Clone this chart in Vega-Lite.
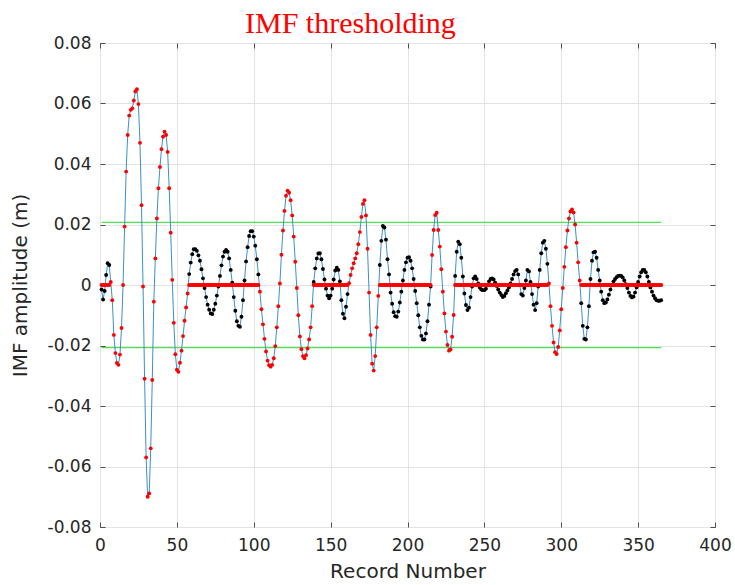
{
  "$schema": "https://vega.github.io/schema/vega-lite/v6.json",
  "width": 615,
  "height": 484,
  "autosize": {"type": "none"},
  "padding": {"left": 100, "top": 43, "right": 20, "bottom": 58},
  "background": "white",
  "config": {
    "view": {"stroke": "#4d4d4d", "strokeWidth": 1},
    "font": "DejaVu Sans"
  },
  "title": {
    "text": "IMF thresholding",
    "font": "Liberation Serif",
    "fontSize": 30,
    "fontWeight": "normal",
    "color": "#ff0000",
    "anchor": "start",
    "frame": "group",
    "dx": 145,
    "dy": 11,
    "offset": 6
  },
  "datasets": {
    "imf": [
      {"x":1,"v":-0.0015,"k":0},{"x":2,"v":-0.0048,"k":0},{"x":3,"v":-0.0020,"k":0},{"x":4,"v":0.0033,"k":0},{"x":5,"v":0.0072,"k":0},{"x":6,"v":0.0066,"k":0},
      {"x":7,"v":0.0010,"k":1},{"x":8,"v":-0.0050,"k":1},{"x":9,"v":-0.0165,"k":1},{"x":10,"v":-0.0225,"k":1},{"x":11,"v":-0.0258,"k":1},{"x":12,"v":-0.0264,"k":1},{"x":13,"v":-0.0230,"k":1},{"x":14,"v":-0.0142,"k":1},{"x":15,"v":0.0000,"k":1},{"x":16,"v":0.0193,"k":1},{"x":17,"v":0.0375,"k":1},{"x":18,"v":0.0496,"k":1},{"x":19,"v":0.0560,"k":1},{"x":20,"v":0.0579,"k":1},{"x":21,"v":0.0584,"k":1},{"x":22,"v":0.0610,"k":1},{"x":23,"v":0.0640,"k":1},{"x":24,"v":0.0647,"k":1},{"x":25,"v":0.0598,"k":1},{"x":26,"v":0.0470,"k":1},{"x":27,"v":0.0264,"k":1},{"x":28,"v":-0.0005,"k":1},{"x":29,"v":-0.0310,"k":1},{"x":30,"v":-0.0570,"k":1},{"x":31,"v":-0.0700,"k":1},{"x":32,"v":-0.0689,"k":1},{"x":33,"v":-0.0540,"k":1},{"x":34,"v":-0.0314,"k":1},{"x":35,"v":-0.0055,"k":1},{"x":36,"v":0.0088,"k":1},{"x":37,"v":0.0220,"k":1},{"x":38,"v":0.0320,"k":1},{"x":39,"v":0.0390,"k":1},{"x":40,"v":0.0449,"k":1},{"x":41,"v":0.0490,"k":1},{"x":42,"v":0.0507,"k":1},{"x":43,"v":0.0496,"k":1},{"x":44,"v":0.0440,"k":1},{"x":45,"v":0.0320,"k":1},{"x":46,"v":0.0173,"k":1},{"x":47,"v":0.0017,"k":1},{"x":48,"v":-0.0125,"k":1},{"x":49,"v":-0.0229,"k":1},{"x":50,"v":-0.0280,"k":1},{"x":51,"v":-0.0287,"k":1},{"x":52,"v":-0.0257,"k":1},{"x":53,"v":-0.0217,"k":1},{"x":54,"v":-0.0169,"k":1},{"x":55,"v":-0.0118,"k":1},{"x":56,"v":-0.0074,"k":1},{"x":57,"v":-0.0028,"k":1},
      {"x":58,"v":0.0036,"k":0},{"x":59,"v":0.0074,"k":0},{"x":60,"v":0.0102,"k":0},{"x":61,"v":0.0118,"k":0},{"x":62,"v":0.0118,"k":0},{"x":63,"v":0.0113,"k":0},{"x":64,"v":0.0098,"k":0},{"x":65,"v":0.0080,"k":0},{"x":66,"v":0.0052,"k":0},{"x":67,"v":0.0022,"k":0},{"x":68,"v":-0.0010,"k":0},{"x":69,"v":-0.0040,"k":0},{"x":70,"v":-0.0065,"k":0},{"x":71,"v":-0.0082,"k":0},{"x":72,"v":-0.0094,"k":0},{"x":73,"v":-0.0096,"k":0},{"x":74,"v":-0.0082,"k":0},{"x":75,"v":-0.0062,"k":0},{"x":76,"v":-0.0035,"k":0},{"x":77,"v":-0.0005,"k":0},{"x":78,"v":0.0030,"k":0},{"x":79,"v":0.0065,"k":0},{"x":80,"v":0.0094,"k":0},{"x":81,"v":0.0110,"k":0},{"x":82,"v":0.0116,"k":0},{"x":83,"v":0.0110,"k":0},{"x":84,"v":0.0088,"k":0},{"x":85,"v":0.0050,"k":0},{"x":86,"v":0.0008,"k":0},{"x":87,"v":-0.0040,"k":0},{"x":88,"v":-0.0085,"k":0},{"x":89,"v":-0.0120,"k":0},{"x":90,"v":-0.0135,"k":0},{"x":91,"v":-0.0138,"k":0},{"x":92,"v":-0.0105,"k":0},{"x":93,"v":-0.0050,"k":0},{"x":94,"v":0.0015,"k":0},{"x":95,"v":0.0078,"k":0},{"x":96,"v":0.0125,"k":0},{"x":97,"v":0.0162,"k":0},{"x":98,"v":0.0178,"k":0},{"x":99,"v":0.0178,"k":0},{"x":100,"v":0.0160,"k":0},{"x":101,"v":0.0130,"k":0},{"x":102,"v":0.0085,"k":0},{"x":103,"v":0.0035,"k":0},
      {"x":104,"v":-0.0022,"k":1},{"x":105,"v":-0.0080,"k":1},{"x":106,"v":-0.0130,"k":1},{"x":107,"v":-0.0178,"k":1},{"x":108,"v":-0.0220,"k":1},{"x":109,"v":-0.0250,"k":1},{"x":110,"v":-0.0265,"k":1},{"x":111,"v":-0.0270,"k":1},{"x":112,"v":-0.0264,"k":1},{"x":113,"v":-0.0242,"k":1},{"x":114,"v":-0.0202,"k":1},{"x":115,"v":-0.0140,"k":1},{"x":116,"v":-0.0070,"k":1},{"x":117,"v":0.0005,"k":1},{"x":118,"v":0.0100,"k":1},{"x":119,"v":0.0180,"k":1},{"x":120,"v":0.0245,"k":1},{"x":121,"v":0.0295,"k":1},{"x":122,"v":0.0312,"k":1},{"x":123,"v":0.0305,"k":1},{"x":124,"v":0.0280,"k":1},{"x":125,"v":0.0230,"k":1},{"x":126,"v":0.0160,"k":1},{"x":127,"v":0.0077,"k":1},{"x":128,"v":-0.0010,"k":1},{"x":129,"v":-0.0100,"k":1},{"x":130,"v":-0.0170,"k":1},{"x":131,"v":-0.0212,"k":1},{"x":132,"v":-0.0235,"k":1},{"x":133,"v":-0.0242,"k":1},{"x":134,"v":-0.0232,"k":1},{"x":135,"v":-0.0210,"k":1},{"x":136,"v":-0.0180,"k":1},{"x":137,"v":-0.0140,"k":1},{"x":138,"v":-0.0070,"k":1},
      {"x":139,"v":0.0010,"k":0},{"x":140,"v":0.0055,"k":0},{"x":141,"v":0.0088,"k":0},{"x":142,"v":0.0104,"k":0},{"x":143,"v":0.0105,"k":0},{"x":144,"v":0.0085,"k":0},{"x":145,"v":0.0053,"k":0},{"x":146,"v":0.0018,"k":0},{"x":147,"v":-0.0012,"k":0},{"x":148,"v":-0.0035,"k":0},{"x":149,"v":-0.0044,"k":0},{"x":150,"v":-0.0035,"k":0},{"x":151,"v":-0.0012,"k":0},{"x":152,"v":0.0018,"k":0},{"x":153,"v":0.0048,"k":0},{"x":154,"v":0.0057,"k":0},{"x":155,"v":0.0050,"k":0},{"x":156,"v":0.0012,"k":0},{"x":157,"v":-0.0050,"k":0},{"x":158,"v":-0.0095,"k":0},{"x":159,"v":-0.0110,"k":0},{"x":160,"v":-0.0072,"k":0},{"x":161,"v":-0.0030,"k":0},
      {"x":162,"v":0.0006,"k":1},{"x":163,"v":0.0033,"k":1},{"x":164,"v":0.0055,"k":1},{"x":165,"v":0.0072,"k":1},{"x":166,"v":0.0088,"k":1},{"x":167,"v":0.0105,"k":1},{"x":168,"v":0.0135,"k":1},{"x":169,"v":0.0175,"k":1},{"x":170,"v":0.0225,"k":1},{"x":171,"v":0.0268,"k":1},{"x":172,"v":0.0280,"k":1},{"x":173,"v":0.0230,"k":1},{"x":174,"v":0.0120,"k":1},{"x":175,"v":-0.0025,"k":1},{"x":176,"v":-0.0165,"k":1},{"x":177,"v":-0.0260,"k":1},{"x":178,"v":-0.0283,"k":1},{"x":179,"v":-0.0235,"k":1},{"x":180,"v":-0.0140,"k":1},{"x":181,"v":-0.0036,"k":1},
      {"x":182,"v":0.0066,"k":0},{"x":183,"v":0.0146,"k":0},{"x":184,"v":0.0195,"k":0},{"x":185,"v":0.0190,"k":0},{"x":186,"v":0.0150,"k":0},{"x":187,"v":0.0085,"k":0},{"x":188,"v":0.0035,"k":0},{"x":189,"v":-0.0025,"k":0},{"x":190,"v":-0.0062,"k":0},{"x":191,"v":-0.0090,"k":0},{"x":192,"v":-0.0103,"k":0},{"x":193,"v":-0.0105,"k":0},{"x":194,"v":-0.0088,"k":0},{"x":195,"v":-0.0058,"k":0},{"x":196,"v":-0.0022,"k":0},{"x":197,"v":0.0015,"k":0},{"x":198,"v":0.0050,"k":0},{"x":199,"v":0.0075,"k":0},{"x":200,"v":0.0090,"k":0},{"x":201,"v":0.0092,"k":0},{"x":202,"v":0.0080,"k":0},{"x":203,"v":0.0055,"k":0},{"x":204,"v":0.0020,"k":0},{"x":205,"v":-0.0020,"k":0},{"x":206,"v":-0.0060,"k":0},{"x":207,"v":-0.0100,"k":0},{"x":208,"v":-0.0140,"k":0},{"x":209,"v":-0.0168,"k":0},{"x":210,"v":-0.0180,"k":0},{"x":211,"v":-0.0180,"k":0},{"x":212,"v":-0.0160,"k":0},{"x":213,"v":-0.0120,"k":0},{"x":214,"v":-0.0065,"k":0},{"x":215,"v":-0.0005,"k":0},
      {"x":216,"v":0.0099,"k":1},{"x":217,"v":0.0182,"k":1},{"x":218,"v":0.0231,"k":1},{"x":219,"v":0.0239,"k":1},{"x":220,"v":0.0182,"k":1},{"x":221,"v":0.0127,"k":1},{"x":222,"v":0.0052,"k":1},{"x":223,"v":-0.0022,"k":1},{"x":224,"v":-0.0094,"k":1},{"x":225,"v":-0.0154,"k":1},{"x":226,"v":-0.0198,"k":1},{"x":227,"v":-0.0217,"k":1},{"x":228,"v":-0.0213,"k":1},{"x":229,"v":-0.0171,"k":1},{"x":230,"v":-0.0099,"k":1},
      {"x":231,"v":0.0030,"k":0},{"x":232,"v":0.0110,"k":0},{"x":233,"v":0.0143,"k":0},{"x":234,"v":0.0135,"k":0},{"x":235,"v":0.0090,"k":0},{"x":236,"v":0.0028,"k":0},{"x":237,"v":-0.0028,"k":0},{"x":238,"v":-0.0066,"k":0},{"x":239,"v":-0.0083,"k":0},{"x":240,"v":-0.0075,"k":0},{"x":241,"v":-0.0040,"k":0},{"x":242,"v":-0.0005,"k":0},{"x":243,"v":0.0022,"k":0},{"x":244,"v":0.0028,"k":0},{"x":245,"v":0.0020,"k":0},{"x":246,"v":0.0005,"k":0},{"x":247,"v":-0.0008,"k":0},{"x":248,"v":-0.0015,"k":0},{"x":249,"v":-0.0017,"k":0},{"x":250,"v":-0.0017,"k":0},{"x":251,"v":-0.0012,"k":0},{"x":252,"v":0.0000,"k":0},{"x":253,"v":0.0012,"k":0},{"x":254,"v":0.0020,"k":0},{"x":255,"v":0.0022,"k":0},{"x":256,"v":0.0018,"k":0},{"x":257,"v":0.0008,"k":0},{"x":258,"v":-0.0003,"k":0},{"x":259,"v":-0.0015,"k":0},{"x":260,"v":-0.0025,"k":0},{"x":261,"v":-0.0033,"k":0},{"x":262,"v":-0.0040,"k":0},{"x":263,"v":-0.0036,"k":0},{"x":264,"v":-0.0027,"k":0},{"x":265,"v":-0.0018,"k":0},{"x":266,"v":-0.0008,"k":0},{"x":267,"v":0.0005,"k":0},{"x":268,"v":0.0020,"k":0},{"x":269,"v":0.0035,"k":0},{"x":270,"v":0.0046,"k":0},{"x":271,"v":0.0050,"k":0},{"x":272,"v":0.0035,"k":0},{"x":273,"v":0.0000,"k":0},{"x":274,"v":-0.0030,"k":0},{"x":275,"v":-0.0035,"k":0},{"x":276,"v":-0.0010,"k":0},{"x":277,"v":0.0015,"k":0},{"x":278,"v":0.0050,"k":0},{"x":279,"v":0.0045,"k":0},{"x":280,"v":0.0010,"k":0},{"x":281,"v":-0.0030,"k":0},{"x":282,"v":-0.0065,"k":0},{"x":283,"v":-0.0083,"k":0},{"x":284,"v":-0.0060,"k":0},{"x":285,"v":-0.0005,"k":0},{"x":286,"v":0.0050,"k":0},{"x":287,"v":0.0105,"k":0},{"x":288,"v":0.0140,"k":0},{"x":289,"v":0.0146,"k":0},{"x":290,"v":0.0120,"k":0},{"x":291,"v":0.0070,"k":0},
      {"x":292,"v":0.0005,"k":1},{"x":293,"v":-0.0070,"k":1},{"x":294,"v":-0.0135,"k":1},{"x":295,"v":-0.0190,"k":1},{"x":296,"v":-0.0222,"k":1},{"x":297,"v":-0.0228,"k":1},{"x":298,"v":-0.0205,"k":1},{"x":299,"v":-0.0150,"k":1},{"x":300,"v":-0.0080,"k":1},{"x":301,"v":-0.0010,"k":1},{"x":302,"v":0.0060,"k":1},{"x":303,"v":0.0125,"k":1},{"x":304,"v":0.0180,"k":1},{"x":305,"v":0.0220,"k":1},{"x":306,"v":0.0243,"k":1},{"x":307,"v":0.0250,"k":1},{"x":308,"v":0.0240,"k":1},{"x":309,"v":0.0200,"k":1},{"x":310,"v":0.0140,"k":1},{"x":311,"v":0.0075,"k":1},{"x":312,"v":0.0015,"k":1},
      {"x":313,"v":-0.0060,"k":0},{"x":314,"v":-0.0135,"k":0},{"x":315,"v":-0.0178,"k":0},{"x":316,"v":-0.0180,"k":0},{"x":317,"v":-0.0140,"k":0},{"x":318,"v":-0.0070,"k":0},{"x":319,"v":0.0020,"k":0},{"x":320,"v":0.0080,"k":0},{"x":321,"v":0.0108,"k":0},{"x":322,"v":0.0110,"k":0},{"x":323,"v":0.0090,"k":0},{"x":324,"v":0.0050,"k":0},{"x":325,"v":0.0015,"k":0},{"x":326,"v":-0.0022,"k":0},{"x":327,"v":-0.0050,"k":0},{"x":328,"v":-0.0060,"k":0},{"x":329,"v":-0.0058,"k":0},{"x":330,"v":-0.0048,"k":0},{"x":331,"v":-0.0032,"k":0},{"x":332,"v":-0.0015,"k":0},{"x":333,"v":0.0000,"k":0},{"x":334,"v":0.0012,"k":0},{"x":335,"v":0.0020,"k":0},{"x":336,"v":0.0026,"k":0},{"x":337,"v":0.0030,"k":0},{"x":338,"v":0.0031,"k":0},{"x":339,"v":0.0030,"k":0},{"x":340,"v":0.0025,"k":0},{"x":341,"v":0.0015,"k":0},{"x":342,"v":0.0003,"k":0},{"x":343,"v":-0.0010,"k":0},{"x":344,"v":-0.0025,"k":0},{"x":345,"v":-0.0036,"k":0},{"x":346,"v":-0.0041,"k":0},{"x":347,"v":-0.0038,"k":0},{"x":348,"v":-0.0025,"k":0},{"x":349,"v":-0.0008,"k":0},{"x":350,"v":0.0010,"k":0},{"x":351,"v":0.0028,"k":0},{"x":352,"v":0.0042,"k":0},{"x":353,"v":0.0050,"k":0},{"x":354,"v":0.0050,"k":0},{"x":355,"v":0.0042,"k":0},{"x":356,"v":0.0028,"k":0},{"x":357,"v":0.0010,"k":0},{"x":358,"v":-0.0008,"k":0},{"x":359,"v":-0.0022,"k":0},{"x":360,"v":-0.0035,"k":0},{"x":361,"v":-0.0044,"k":0},{"x":362,"v":-0.0050,"k":0},{"x":363,"v":-0.0052,"k":0},{"x":364,"v":-0.0052,"k":0},{"x":365,"v":-0.0050,"k":0}
    ],
    "thresholds": [{"t": 0.0207}, {"t": -0.0207}]
  },
  "resolve": {"axis": {"x": "independent", "y": "independent"}},
  "layer": [
    {
      "data": {"name": "thresholds"},
      "mark": {"type": "rule", "color": "#4ee44e", "strokeWidth": 1.2},
      "encoding": {
        "x": {"datum": 1, "type": "quantitative",
          "scale": {"domain": [0, 400], "nice": false, "zero": false},
          "axis": {"orient": "bottom", "values": [0,50,100,150,200,250,300,350,400], "title": "Record Number",
            "titleFontSize": 20, "titleFontWeight": "normal", "titleColor": "#262626", "titlePadding": 8,
            "labelFontSize": 17, "labelColor": "#262626", "labelPadding": 15, "labelFlush": false,
            "tickSize": -5, "tickColor": "#4d4d4d", "domain": false,
            "grid": true, "gridColor": "#e3e3e3", "gridWidth": 1}},
        "x2": {"datum": 365},
        "y": {"field": "t", "type": "quantitative",
          "scale": {"domain": [-0.08, 0.08], "nice": false, "zero": false},
          "axis": {"orient": "left", "values": [-0.08,-0.06,-0.04,-0.02,0,0.02,0.04,0.06,0.08],
            "labelExpr": "datum.value == 0 ? '0' : (datum.value < 0 ? '-' : '') + format(abs(datum.value), '.2f')",
            "title": "IMF amplitude (m)", "titleFontSize": 20, "titleFontWeight": "normal", "titleColor": "#262626", "titlePadding": 17,
            "labelFontSize": 17, "labelColor": "#262626", "labelPadding": 14, "labelFlush": false,
            "tickSize": -5, "tickColor": "#4d4d4d", "domain": false,
            "grid": true, "gridColor": "#e3e3e3", "gridWidth": 1}}
      }
    },
    {
      "data": {"name": "imf"},
      "mark": {"type": "line", "color": "#3d8fcc", "strokeWidth": 1},
      "encoding": {
        "x": {"field": "x", "type": "quantitative",
          "scale": {"domain": [0, 400], "nice": false, "zero": false},
          "axis": {"orient": "top", "values": [0,50,100,150,200,250,300,350,400], "labels": false, "title": null,
            "tickSize": -5, "tickColor": "#4d4d4d", "domain": false, "grid": false}},
        "y": {"field": "v", "type": "quantitative",
          "scale": {"domain": [-0.08, 0.08], "nice": false, "zero": false},
          "axis": {"orient": "right", "values": [-0.08,-0.06,-0.04,-0.02,0,0.02,0.04,0.06,0.08], "labels": false, "title": null,
            "tickSize": -5, "tickColor": "#4d4d4d", "domain": false, "grid": false}}
      }
    },
    {
      "data": {"name": "imf"},
      "transform": [{"filter": "datum.k == 0"}],
      "mark": {"type": "point", "filled": true, "color": "#000000", "size": 15, "opacity": 1},
      "encoding": {
        "x": {"field": "x", "type": "quantitative", "scale": {"domain": [0, 400], "nice": false, "zero": false}, "axis": null},
        "y": {"field": "v", "type": "quantitative", "scale": {"domain": [-0.08, 0.08], "nice": false, "zero": false}, "axis": null}
      }
    },
    {
      "data": {"name": "imf"},
      "transform": [{"filter": "datum.k == 1"}],
      "mark": {"type": "point", "filled": true, "color": "#ff0000", "size": 15, "opacity": 1},
      "encoding": {
        "x": {"field": "x", "type": "quantitative", "scale": {"domain": [0, 400], "nice": false, "zero": false}, "axis": null},
        "y": {"field": "v", "type": "quantitative", "scale": {"domain": [-0.08, 0.08], "nice": false, "zero": false}, "axis": null}
      }
    },
    {
      "data": {"name": "imf"},
      "transform": [{"filter": "datum.k == 0"}],
      "mark": {"type": "point", "filled": true, "color": "#ff0000", "size": 16, "opacity": 1},
      "encoding": {
        "x": {"field": "x", "type": "quantitative", "scale": {"domain": [0, 400], "nice": false, "zero": false}, "axis": null},
        "y": {"datum": 0, "type": "quantitative", "scale": {"domain": [-0.08, 0.08], "nice": false, "zero": false}, "axis": null}
      }
    }
  ]
}
